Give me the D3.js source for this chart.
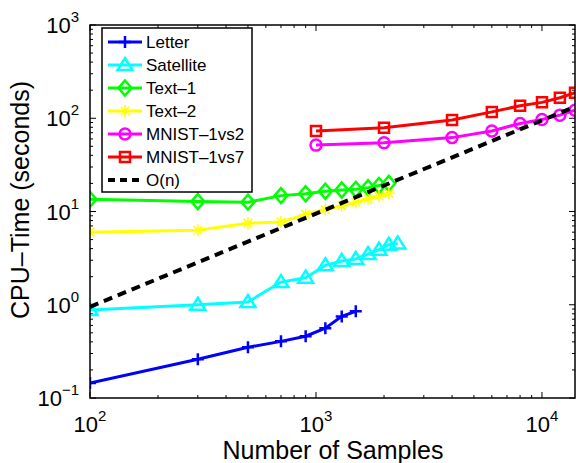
<!DOCTYPE html>
<html lang="en">
<head>
<meta charset="UTF-8">
<title>CPU time vs samples</title>
<script src="https://d3js.org/d3.v7.min.js"></script>
<style>
  body { margin: 0; background: #fff; }
  svg { display: block; background: #fff; }
  text { font-family: "Liberation Sans", Arial, sans-serif; fill: #000; }
  .tick-label { font-size: 22px; }
  .axis-title { font-size: 25px; }
  .legend-text { font-size: 17px; }
</style>
</head>
<body>
<svg width="576" height="463"></svg>
<script>
// sample sizes per dataset
const xSmall = [100, 300, 500, 700, 900, 1100, 1300, 1500];
const xSat = [100, 300, 500, 700, 900, 1100, 1300, 1500, 1700, 1900, 2100, 2300];
const xText = [100, 300, 500, 700, 900, 1100, 1300, 1500, 1700, 1900, 2100];
const xMnist = [1000, 2000, 4000, 6000, 8000, 10000, 12000, 14000];
const xLinear = [100, 14000];

// CPU time (seconds)
const letter = [0.145, 0.26, 0.35, 0.405, 0.46, 0.56, 0.75, 0.85];
const satellite = [0.88, 1.0, 1.07, 1.75, 1.95, 2.65, 2.95, 3.1, 3.5, 3.9, 4.4, 4.55];
const text1 = [13.5, 12.8, 12.6, 14.8, 15.5, 16.5, 17, 17.3, 18, 19, 20];
const text2 = [6.0, 6.3, 7.5, 7.7, 9.3, 10.5, 11.5, 12.5, 13.7, 14.7, 15.7];
const mnist12 = [51.5, 54.5, 62, 73, 88, 97, 108, 122];
const mnist17 = [73, 79, 96, 117, 136, 148, 166, 188];
const linear = [0.95, 133];

const seriesNames = ["Letter", "Satellite", "Text\u20131", "Text\u20132", "MNIST\u20131vs2", "MNIST\u20131vs7", "O(n)"];
const xTickExp = [2, 3, 4];
const yTickExp = [-1, 0, 1, 2, 3];

const series = [
  { name: seriesNames[0], xs: xSmall, ys: letter, color: "#0000ff", marker: "plus" },
  { name: seriesNames[1], xs: xSat, ys: satellite, color: "#00ffff", marker: "triangle" },
  { name: seriesNames[2], xs: xText, ys: text1, color: "#00ff00", marker: "diamond" },
  { name: seriesNames[3], xs: xText, ys: text2, color: "#ffff00", marker: "star" },
  { name: seriesNames[4], xs: xMnist, ys: mnist12, color: "#ff00ff", marker: "circle" },
  { name: seriesNames[5], xs: xMnist, ys: mnist17, color: "#ff0000", marker: "square" },
  { name: seriesNames[6], xs: xLinear, ys: linear, color: "#000000", marker: null, dashed: true }
];

const svg = d3.select("svg");
const margin = { left: 90, right: 1, top: 25, bottom: 65 };
const W = 576, H = 463;

const x = d3.scaleLog().domain([100, 14000]).range([margin.left, W - margin.right]);
const y = d3.scaleLog().domain([0.1, 1000]).range([H - margin.bottom, margin.top]);

const x0 = margin.left, x1 = W - margin.right, y0 = H - margin.bottom, y1 = margin.top;

// marker shapes relative to the point
function markerPath(type) {
  switch (type) {
    case "plus": return "M-6,0H6M0,-6V6";
    case "triangle": return "M0,-7L7.5,5H-7.5Z";
    case "diamond": return "M0,-7.5L6.5,0L0,7.5L-6.5,0Z";
    case "star": return "M-6,0H6M0,-6V6M-4.3,-4.3L4.3,4.3M-4.3,4.3L4.3,-4.3";
    case "circle": return "M5.5,0A5.5,5.5 0 1,1 -5.5,0A5.5,5.5 0 1,1 5.5,0Z";
    case "square": return "M-5,-5H5V5H-5Z";
  }
  return "";
}
function markerWidth(type) {
  return type === "star" ? 1.5 : 2.5;
}

// clip to axes box
svg.append("clipPath").attr("id", "plotclip")
  .append("rect").attr("x", x0).attr("y", y1).attr("width", x1 - x0).attr("height", y0 - y1);

// minor / major ticks, all four sides, pointing in
const xMinor = [], yMinor = [];
for (let e = 2; e <= 4; e++) for (let m = 2; m <= 9; m++) { const v = m * Math.pow(10, e); if (v <= 14000) xMinor.push(v); }
for (let e = -1; e <= 2; e++) for (let m = 2; m <= 9; m++) yMinor.push(m * Math.pow(10, e));
const xMajor = xTickExp.map(e => Math.pow(10, e));
const yMajor = yTickExp.map(e => Math.pow(10, e));

const ticks = svg.append("g").attr("stroke", "#000").attr("stroke-width", 1);
function vTicks(vals, len) {
  vals.forEach(v => {
    const px = x(v);
    ticks.append("line").attr("x1", px).attr("x2", px).attr("y1", y0).attr("y2", y0 - len);
    ticks.append("line").attr("x1", px).attr("x2", px).attr("y1", y1).attr("y2", y1 + len);
  });
}
function hTicks(vals, len) {
  vals.forEach(v => {
    const py = y(v);
    ticks.append("line").attr("x1", x0).attr("x2", x0 + len).attr("y1", py).attr("y2", py);
    ticks.append("line").attr("x1", x1).attr("x2", x1 - len).attr("y1", py).attr("y2", py);
  });
}
vTicks(xMinor, 3);
vTicks(xMajor, 6);
hTicks(yMinor, 3);
hTicks(yMajor, 6);

// tick labels 10^n
xTickExp.forEach(e => {
  const t = svg.append("text").attr("class", "tick-label")
    .attr("x", x(Math.pow(10, e))).attr("y", y0 + 34).attr("text-anchor", "middle");
  t.append("tspan").text("10");
  t.append("tspan").attr("dy", -11).style("font-size", "15px").text(e);
});
yTickExp.forEach(e => {
  const t = svg.append("text").attr("class", "tick-label")
    .attr("x", x0 - 11).attr("y", y(Math.pow(10, e)) + 8).attr("text-anchor", "end");
  t.append("tspan").text("10");
  t.append("tspan").attr("dy", -11).style("font-size", "15px").text(e === -1 ? "\u22121" : e);
});

// series
const plot = svg.append("g").attr("clip-path", "url(#plotclip)");
const line = d3.line().x(d => x(d[0])).y(d => y(d[1]));

series.forEach(s => {
  const pts = s.xs.map((v, i) => [v, s.ys[i]]);
  plot.append("path").datum(pts)
    .attr("d", line)
    .attr("fill", "none")
    .attr("stroke", s.color)
    .attr("stroke-width", s.dashed ? 4 : 3)
    .attr("stroke-dasharray", s.dashed ? "9,6" : null);
  if (s.marker) {
    plot.selectAll(null).data(pts).enter().append("path")
      .attr("transform", d => `translate(${x(d[0])},${y(d[1])})`)
      .attr("d", markerPath(s.marker))
      .attr("fill", "none")
      .attr("stroke", s.color)
      .attr("stroke-width", markerWidth(s.marker));
  }
});

// axes box
svg.append("rect").attr("x", x0).attr("y", y1).attr("width", x1 - x0).attr("height", y0 - y1)
  .attr("fill", "none").attr("stroke", "#000").attr("stroke-width", 1.5);

// axis titles
svg.append("text").attr("class", "axis-title")
  .attr("x", 333).attr("y", 459).attr("text-anchor", "middle")
  .text("Number of Samples");
svg.append("text").attr("class", "axis-title")
  .attr("transform", "translate(29,200) rotate(-90)").attr("text-anchor", "middle")
  .text("CPU\u2013Time (seconds)");

// legend
const lg = svg.append("g");
lg.append("rect").attr("x", 102).attr("y", 28).attr("width", 150).attr("height", 164)
  .attr("fill", "#fff").attr("stroke", "#000").attr("stroke-width", 1.5);
series.forEach((s, i) => {
  const cy = 42 + i * 23;
  lg.append("line").attr("x1", 108).attr("x2", 142).attr("y1", cy).attr("y2", cy)
    .attr("stroke", s.color).attr("stroke-width", s.dashed ? 4 : 3)
    .attr("stroke-dasharray", s.dashed ? "7,5" : null);
  if (s.marker) {
    lg.append("path").attr("transform", `translate(125,${cy})`)
      .attr("d", markerPath(s.marker)).attr("fill", "none")
      .attr("stroke", s.color).attr("stroke-width", markerWidth(s.marker));
  }
  lg.append("text").attr("class", "legend-text").attr("x", 146).attr("y", cy + 6).text(s.name);
});
</script>
</body>
</html>
